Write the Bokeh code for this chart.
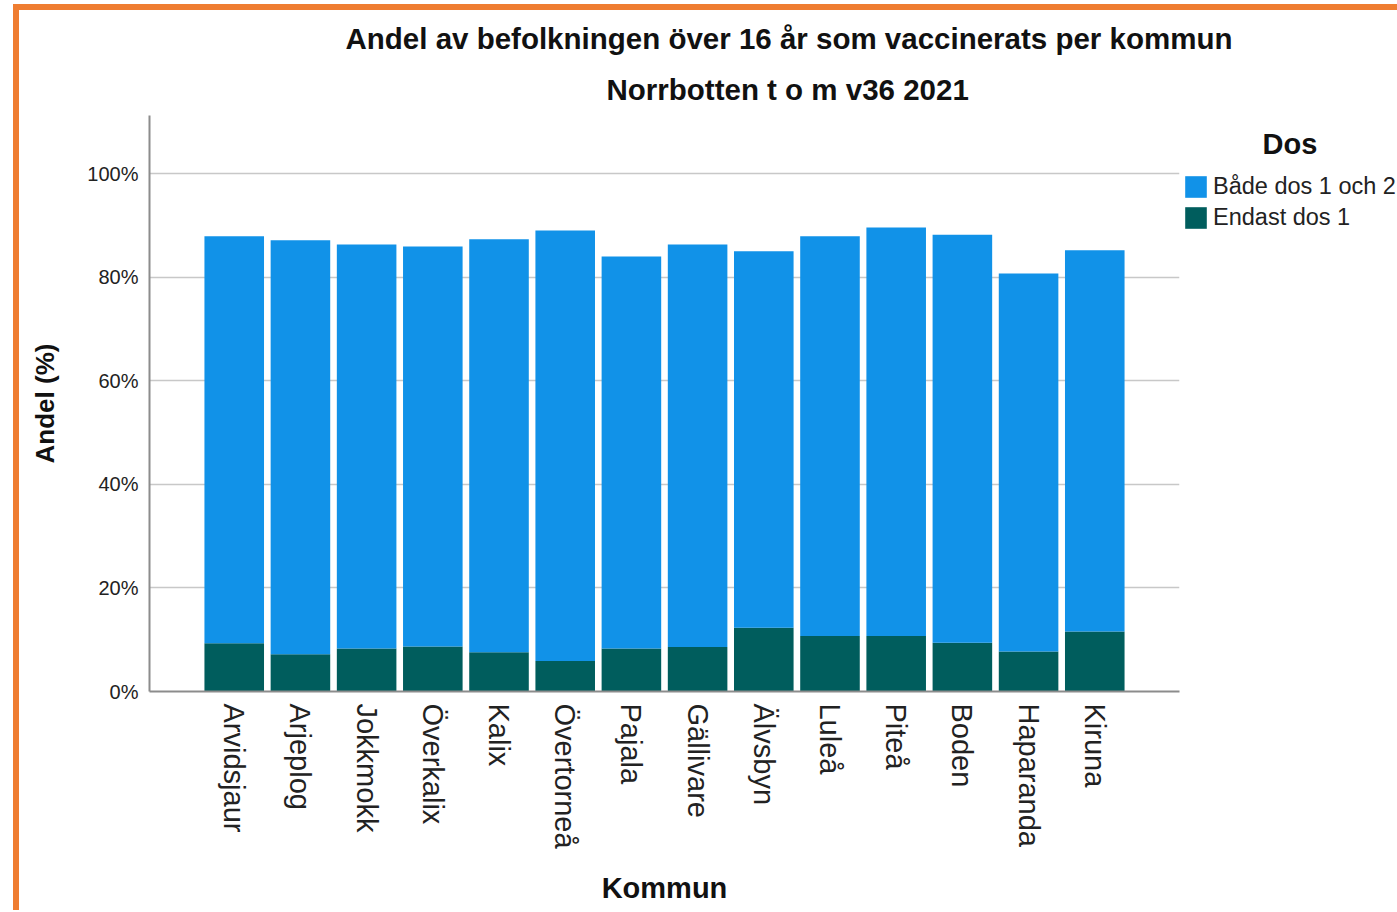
import math
from bokeh.plotting import figure
from bokeh.models import (FactorRange, Range1d, FixedTicker, PrintfTickFormatter, Title,
                          Legend, LegendItem)
from bokeh.embed import file_html
from bokeh.resources import INLINE

# ---- data ----
kommuner = ["Arvidsjaur", "Arjeplog", "Jokkmokk", "Överkalix", "Kalix", "Övertorneå",
            "Pajala", "Gällivare", "Älvsbyn", "Luleå", "Piteå", "Boden", "Haparanda", "Kiruna"]
endast_dos_1 = [9.3, 7.2, 8.3, 8.7, 7.6, 5.9, 8.3, 8.6, 12.3, 10.7, 10.7, 9.4, 7.7, 11.6]
bade_dos_1_och_2 = [78.6, 79.9, 78.0, 77.2, 79.7, 83.1, 75.7, 77.7, 72.7, 77.2, 78.9, 78.8, 73.0, 73.6]
series_names = ["Både dos 1 och 2", "Endast dos 1"]
legend_title = "Dos"
y_ticks = [0, 20, 40, 60, 80, 100]

title1 = "Andel av befolkningen över 16 år som vaccinerats per kommun"
title2 = "Norrbotten t o m v36 2021"
x_title = "Kommun"
y_title = "Andel (%)"

BLUE = "#1192e8"
TEAL = "#005d5d"
FONT = "Liberation Sans"

ML, MT, MR, MB = 130, 105, 217, 219
FW, FH = 1030, 576

p = figure(x_range=FactorRange(factors=kommuner, range_padding=0.78, range_padding_units="absolute"),
           y_range=Range1d(0, 111.2),
           frame_width=FW, frame_height=FH, output_backend="svg", toolbar_location=None,
           min_border_left=ML, min_border_top=MT,
           min_border_right=MR, min_border_bottom=MB)
p.styles = {"border-top": "6px solid #ef7d31", "border-left": "6px solid #ef7d31",
            "margin-left": "13px", "margin-top": "4px"}
p.outline_line_color = None
p.background_fill_color = "white"
p.border_fill_color = "white"

src = dict(kommun=kommuner, endast=endast_dos_1, bade=bade_dos_1_och_2)
r = p.vbar_stack(["endast", "bade"], x="kommun", width=0.9, source=src,
                 color=[TEAL, BLUE], line_color=None)

# axes
p.yaxis.ticker = FixedTicker(ticks=y_ticks)
p.yaxis.formatter = PrintfTickFormatter(format="%d%%")
for ax in (p.xaxis[0], p.yaxis[0]):
    ax.axis_line_color = "#8c8c8c"
    ax.axis_line_width = 2
    ax.major_tick_line_color = None
    ax.minor_tick_line_color = None
    ax.major_label_text_font = FONT
    ax.major_label_text_color = "#222222"
    ax.axis_label_text_font = FONT
    ax.axis_label_text_font_style = "bold"
    ax.axis_label_text_color = "#111111"
p.yaxis.major_label_text_font_size = "20px"
p.yaxis.major_label_standoff = 5
p.yaxis.axis_label = y_title
p.yaxis.axis_label_text_font_size = "26px"
p.yaxis.axis_label_standoff = 24
p.xaxis.major_label_text_font_size = "29px"
p.xaxis.major_label_orientation = -math.pi / 2
p.xaxis.major_label_standoff = 6
p.xaxis.axis_label = x_title
p.xaxis.axis_label_text_font_size = "29px"
p.xaxis.axis_label_standoff = 20

p.xgrid.grid_line_color = None
p.ygrid.ticker = FixedTicker(ticks=y_ticks[1:])
p.ygrid.grid_line_color = "#c8c8c8"
p.ygrid.grid_line_width = 1.5

# titles (first added sits closest to the plot)
p.add_layout(Title(text=title2, align="left", offset=457, standoff=19,
                   text_font=FONT, text_font_size="29.5px", text_font_style="bold",
                   text_color="#111111"), "above")
p.add_layout(Title(text=title1, align="left", offset=196, standoff=14,
                   text_font=FONT, text_font_size="29.5px", text_font_style="bold",
                   text_color="#111111"), "above")

legend = Legend(items=[LegendItem(label=series_names[0], renderers=[r[1]]),
                       LegendItem(label=series_names[1], renderers=[r[0]])],
                location=(3, 460), padding=0, margin=3, spacing=4,
                title="\u00a0" * 10 + legend_title, title_text_font=FONT, title_text_font_size="29px",
                title_text_font_style="bold", title_text_color="#111111",
                title_standoff=12,
                glyph_width=27, glyph_height=27, label_height=27,
                label_text_font=FONT, label_text_font_size="23.5px", label_text_color="#222222",
                label_standoff=4, border_line_color=None, background_fill_alpha=0)
p.add_layout(legend, "right")

open("out.html", "w").write(file_html(p, INLINE))
